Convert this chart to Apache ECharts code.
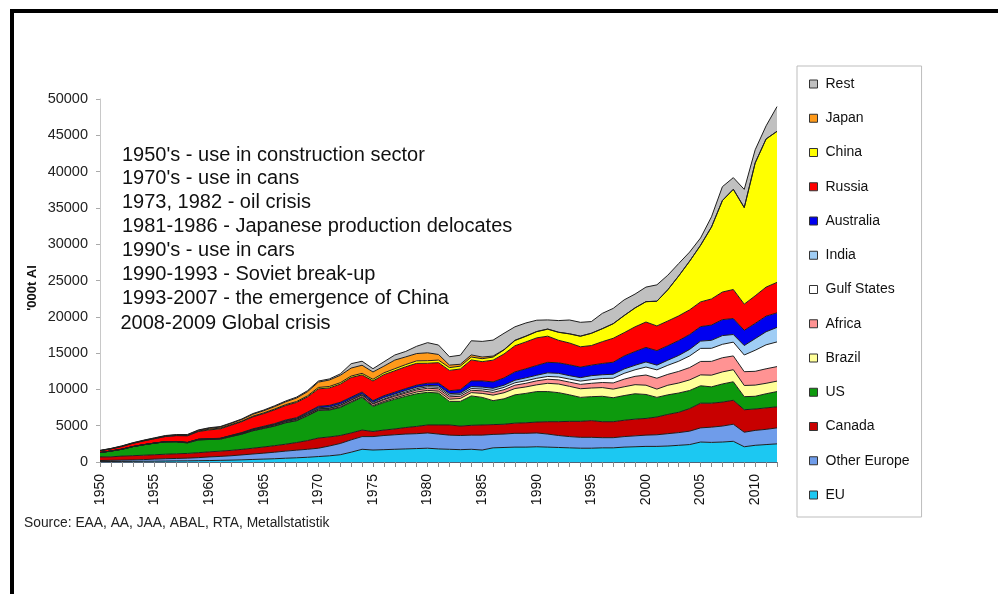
<!DOCTYPE html>
<html>
<head>
<meta charset="utf-8">
<script src="https://cdn.jsdelivr.net/npm/echarts@6/dist/echarts.min.js"></script>
<style>
  html, body { margin: 0; padding: 0; background: #fff; }
  #chart { width: 998px; height: 594px; }
</style>
</head>
<body>
<div id="chart"></div>
<script>
// Primary aluminium production by region, '000 t
const years = ['1950','1951','1952','1953','1954','1955','1956','1957','1958','1959',
  '1960','1961','1962','1963','1964','1965','1966','1967','1968','1969',
  '1970','1971','1972','1973','1974','1975','1976','1977','1978','1979',
  '1980','1981','1982','1983','1984','1985','1986','1987','1988','1989',
  '1990','1991','1992','1993','1994','1995','1996','1997','1998','1999',
  '2000','2001','2002','2003','2004','2005','2006','2007','2008','2009',
  '2010','2011','2012'];

const eu = [60,70,80,90,100,110,130,150,160,180, 200,230,260,300,350,400,450,520,580,650,
  750,850,1000,1350,1750,1650,1700,1750,1800,1850, 1900,1800,1750,1700,1750,1650,1950,2000,2050,2050,
  2100,2050,2000,1950,1900,1900,1950,1950,2050,2100, 2150,2150,2200,2300,2400,2750,2700,2750,2850,2100,
  2300,2400,2500];
const otherEurope = [140,160,180,200,230,290,320,340,370,420, 500,540,600,680,750,820,900,980,1050,1100,
  1150,1350,1550,1700,1750,1850,1950,2000,2050,2050, 2100,2050,1950,1950,1950,2050,1850,1850,1900,1900,
  1900,1800,1650,1550,1500,1500,1400,1400,1450,1500, 1550,1600,1700,1750,1850,1950,2100,2200,2350,2000,
  2050,2100,2200];
const canada = [500,480,550,580,600,600,620,640,650,680, 700,720,740,760,800,850,900,950,1050,1200,
  1400,1250,1100,950,900,700,750,800,900,1000, 1100,1250,1400,1300,1350,1400,1350,1350,1400,1450,
  1500,1700,1900,2100,2200,2300,2200,2200,2250,2300, 2300,2450,2650,2800,3100,3400,3300,3300,3300,3100,
  2950,2950,2900];
const us = [600,800,950,1250,1450,1600,1700,1650,1450,1750, 1700,1650,1900,2100,2400,2550,2700,2950,3000,3400,
  3800,3700,3850,4200,4500,3450,3800,4100,4300,4500, 4500,4400,3250,3400,4050,3800,3300,3500,3900,4050,
  4200,4150,4000,3650,3300,3300,3500,3300,3400,3500, 3300,2700,2700,2650,2500,2400,2250,2500,2550,1800,
  1750,1950,2100];
const brazil = [0,0,0,0,0,0,10,10,10,20, 20,20,20,20,30,30,30,30,40,50,
  60,80,100,110,110,120,140,170,190,240, 260,260,300,400,460,550,760,840,870,890,
  930,1140,1190,1170,1190,1190,1200,1190,1210,1250, 1280,1140,1320,1380,1460,1500,1610,1660,1660,1540,
  1540,1440,1440];
const africa = [0,0,0,0,0,0,10,20,40,60, 70,70,80,100,120,130,140,150,160,170,
  150,170,190,200,210,220,230,240,250,280, 300,320,330,300,320,350,380,420,460,500,
  550,560,570,580,600,650,700,850,1050,1150, 1400,1500,1500,1600,1700,1850,1900,1950,1900,1900,
  1900,2000,2000];
const gulfStates = [0,0,0,0,0,0,0,0,0,0, 0,0,0,0,0,0,0,0,0,0,
  0,0,20,40,60,80,100,130,150,180, 200,210,220,230,240,250,280,320,330,350,
  350,380,400,420,450,500,550,650,800,900, 1100,1150,1250,1400,1600,1800,1800,1850,1900,2300,
  2900,3300,3400];
const india = [0,0,0,0,10,10,10,10,10,20, 20,20,40,60,60,60,80,100,120,140,
  160,180,180,150,130,160,210,180,210,210, 190,210,220,210,280,270,280,300,350,400,
  420,500,500,470,480,550,520,550,600,620, 700,650,700,800,900,1000,1100,1200,1050,1300,
  1600,1800,2000];
const australia = [0,0,0,0,0,0,10,10,10,10, 10,10,20,40,60,80,90,100,100,150,
  200,220,230,240,230,230,250,250,270,280, 300,380,400,470,760,850,880,1000,1150,1250,
  1350,1450,1450,1500,1450,1450,1550,1650,1800,1900, 2000,2000,2000,2050,2050,2000,2100,2200,2200,2100,
  2100,2150,2000];
const russia = [250,300,380,450,520,600,700,800,900,1050, 1200,1300,1400,1500,1650,1750,1900,2000,2100,2100,
  2400,2400,2500,2700,2350,2700,2900,2950,3000,3000, 2750,2800,2800,2850,2900,2650,3000,3300,3600,3700,
  3800,3600,3100,3000,2800,2700,3000,3300,3200,3400, 3500,3400,3400,3400,3400,3400,3600,3800,4000,3600,
  3800,4000,4200];
const china = [0,0,0,0,10,20,20,30,50,70, 100,100,80,80,90,100,110,120,130,150,
  200,200,200,200,220,230,250,280,300,340, 350,360,380,390,400,410,420,560,720,770,
  850,960,1100,1250,1450,1680,1780,2000,2350,2600, 2800,3400,4300,5500,6700,7800,9900,12600,13800,13300,
  18300,20400,20800];
const japan = [30,40,50,50,50,60,70,70,80,90, 130,150,170,220,270,290,340,380,480,570,
  730,890,1010,1100,1120,1010,920,1190,1060,1010, 1090,770,350,260,290,230,140,40,40,40,
  30,30,20,20,20,20,20,20,20,10, 10,10,10,10,10,10,10,10,10,10,
  10,10,10];
const rest = [20,20,30,30,40,40,50,50,60,60, 70,70,80,80,90,100,110,120,130,140,
  150,150,200,600,550,450,600,700,750,1000, 1400,1300,1150,1250,1950,2150,2200,2250,1850,1800,
  1550,1250,1600,1900,1900,1600,2100,2100,2150,1900, 2000,2250,2000,1700,1250,1000,1400,1900,1600,2500,
  1800,1800,3400];

const notes = [
  "1950's - use in construction sector",
  "1970's - use in cans",
  "1973, 1982 - oil crisis",
  "1981-1986 - Japanese production delocates",
  "1990's - use in cars",
  "1990-1993 - Soviet break-up",
  "1993-2007 - the emergence of China",
  "2008-2009 Global crisis"
];
const sourceText = 'Source: EAA, AA, JAA, ABAL, RTA, Metallstatistik';
const yTitle = "'000t Al";

// stacking order, bottom layer first
const layers = [
  { name: 'EU', data: eu, color: '#1cc8f2' },
  { name: 'Other Europe', data: otherEurope, color: '#6f9cea' },
  { name: 'Canada', data: canada, color: '#c80000' },
  { name: 'US', data: us, color: '#0d9a0d' },
  { name: 'Brazil', data: brazil, color: '#ffff99' },
  { name: 'Africa', data: africa, color: '#ff9393' },
  { name: 'Gulf States', data: gulfStates, color: '#ffffff' },
  { name: 'India', data: india, color: '#9fcdf5' },
  { name: 'Australia', data: australia, color: '#0000f0' },
  { name: 'Russia', data: russia, color: '#ff0000' },
  { name: 'China', data: china, color: '#ffff00' },
  { name: 'Japan', data: japan, color: '#ff9a1a' },
  { name: 'Rest', data: rest, color: '#c0c0c0' }
];

const FONT = '"Liberation Sans", Arial, sans-serif';
const chart = echarts.init(document.getElementById('chart'), null, { renderer: 'canvas' });

const noteY = [155, 178.5, 202, 226, 250, 274, 298.5, 323.5];
const noteGraphics = notes.map((t, i) => ({
  type: 'text',
  x: i === notes.length - 1 ? 120.5 : 122,
  y: noteY[i],
  style: { text: t, fill: '#111', font: '20px ' + FONT, verticalAlign: 'middle', align: 'left' }
}));

chart.setOption({
  animation: false,
  grid: { left: 100, right: 221, top: 99, bottom: 132 },
  xAxis: {
    type: 'category',
    data: years,
    boundaryGap: false,
    axisLine: { lineStyle: { color: '#4f6378', width: 1 } },
    axisTick: { interval: 0, length: 5, lineStyle: { color: '#8a8a8a' } },
    axisLabel: { interval: 4, rotate: 90, margin: 12, fontSize: 14, color: '#111', fontFamily: FONT }
  },
  yAxis: {
    type: 'value',
    min: 0, max: 50000, interval: 5000,
    axisLine: { show: true, lineStyle: { color: '#c8c8c8' } },
    axisTick: { show: true, length: 4, lineStyle: { color: '#aaaaaa' } },
    splitLine: { show: false },
    axisLabel: { fontSize: 14.5, color: '#222', margin: 12, fontFamily: FONT, formatter: v => String(v) }
  },
  legend: {
    orient: 'vertical',
    left: 797, top: 66,
    data: layers.slice().reverse().map(l => ({ name: l.name, itemStyle: { color: l.color } })),
    icon: 'rect',
    itemWidth: 8, itemHeight: 8, itemGap: 18.25,
    padding: [10, 12, 14, 12],
    borderColor: '#bdbdbd', borderWidth: 1,
    itemStyle: { borderColor: '#333', borderWidth: 1 },
    textStyle: { fontSize: 14, color: '#111', fontFamily: FONT, lineHeight: 16, padding: [0, 0, 0, 3] },
    selectedMode: false
  },
  series: layers.map(l => ({
    name: l.name,
    type: 'line',
    stack: 'total',
    data: l.data,
    symbol: 'none',
    color: l.color,
    lineStyle: { color: '#1e1e1e', width: 1 },
    areaStyle: { color: l.color, opacity: 1 },
    emphasis: { disabled: true }
  })),
  graphic: [
    { type: 'rect', shape: { x: 10, y: 9, width: 988, height: 4 }, style: { fill: '#000' } },
    { type: 'rect', shape: { x: 10, y: 9, width: 4, height: 585 }, style: { fill: '#000' } },
    {
      type: 'text', x: 32, y: 288, rotation: Math.PI / 2,
      style: { text: yTitle, fill: '#111', font: 'bold 13px ' + FONT, align: 'center', verticalAlign: 'middle' }
    },
    {
      type: 'text', x: 24, y: 523,
      style: { text: sourceText, fill: '#222', font: '13.8px ' + FONT, align: 'left', verticalAlign: 'middle' }
    }
  ].concat(noteGraphics)
});
</script>
</body>
</html>
